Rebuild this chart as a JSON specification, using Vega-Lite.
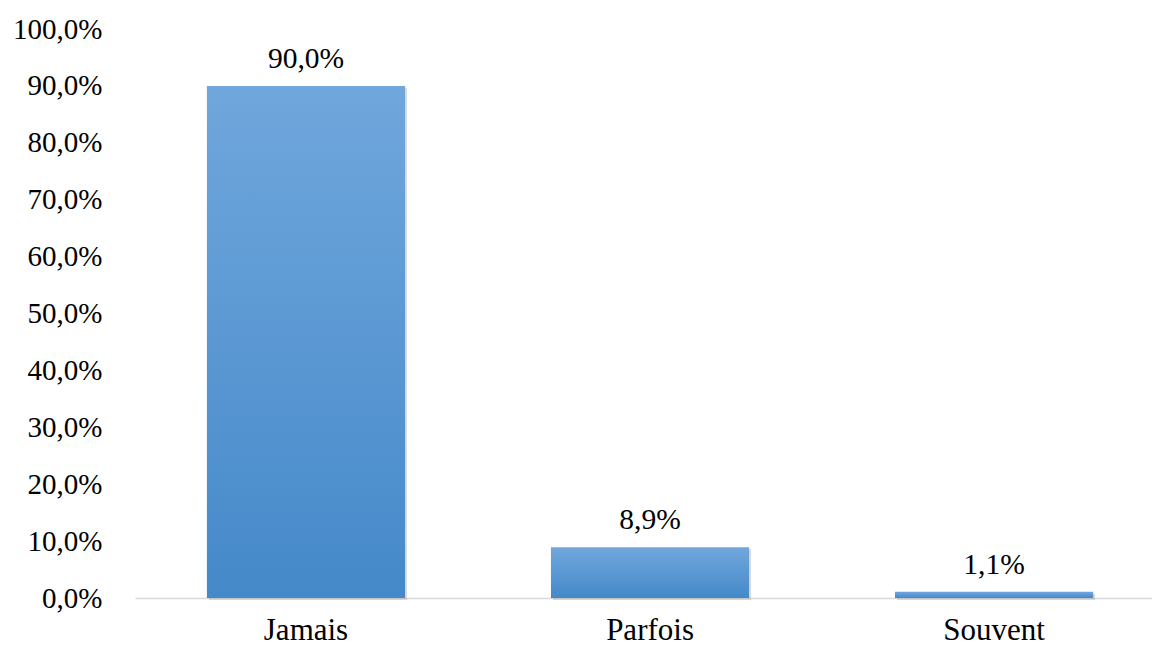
{
  "$schema": "https://vega.github.io/schema/vega-lite/v6.json",
  "width": 1017,
  "height": 569,
  "autosize": {"type": "none"},
  "padding": {"left": 135, "top": 29, "right": 0, "bottom": 49},
  "background": "white",
  "config": {
    "view": {"stroke": null},
    "font": "Liberation Serif",
    "locale": {"number": {"decimal": ",", "thousands": " ", "grouping": [3], "currency": ["", " €"]}}
  },
  "data": {
    "values": [
      {"cat": "Jamais", "value": 0.9},
      {"cat": "Parfois", "value": 0.089},
      {"cat": "Souvent", "value": 0.011}
    ]
  },
  "encoding": {
    "x": {
      "field": "cat",
      "type": "nominal",
      "sort": null,
      "scale": {"paddingInner": 0.424, "paddingOuter": 0.19, "align": 0.55},
      "axis": {
        "title": null,
        "labelAngle": 0,
        "ticks": false,
        "domain": true,
        "domainColor": "#d9d9d9",
        "domainWidth": 1.5,
        "labelFont": "Liberation Serif",
        "labelFontSize": 31,
        "labelColor": "#000000",
        "labelBaseline": "alphabetic",
        "labelPadding": 41
      }
    },
    "y": {
      "field": "value",
      "type": "quantitative",
      "scale": {"domain": [0, 1]},
      "axis": {
        "title": null,
        "values": [0, 0.1, 0.2, 0.3, 0.4, 0.5, 0.6, 0.7, 0.8, 0.9, 1.0],
        "format": ".1%",
        "ticks": false,
        "domain": false,
        "grid": false,
        "labelFont": "Liberation Serif",
        "labelFontSize": 29,
        "labelColor": "#000000",
        "labelPadding": 33
      }
    }
  },
  "layer": [
    {
      "mark": {"type": "bar", "color": "#9a9a9a", "opacity": 0.35, "xOffset": 2, "yOffset": 2}
    },
    {
      "mark": {
        "type": "bar",
        "color": {
          "gradient": "linear",
          "x1": 0, "y1": 0, "x2": 0, "y2": 1,
          "stops": [
            {"offset": 0, "color": "#70a7dc"},
            {"offset": 1, "color": "#4589ca"}
          ]
        }
      }
    },
    {
      "mark": {"type": "text", "baseline": "alphabetic", "dy": -18, "fontSize": 29.5, "font": "Liberation Serif", "color": "#000000"},
      "encoding": {
        "text": {"field": "value", "type": "quantitative", "format": ".1%"}
      }
    }
  ]
}
